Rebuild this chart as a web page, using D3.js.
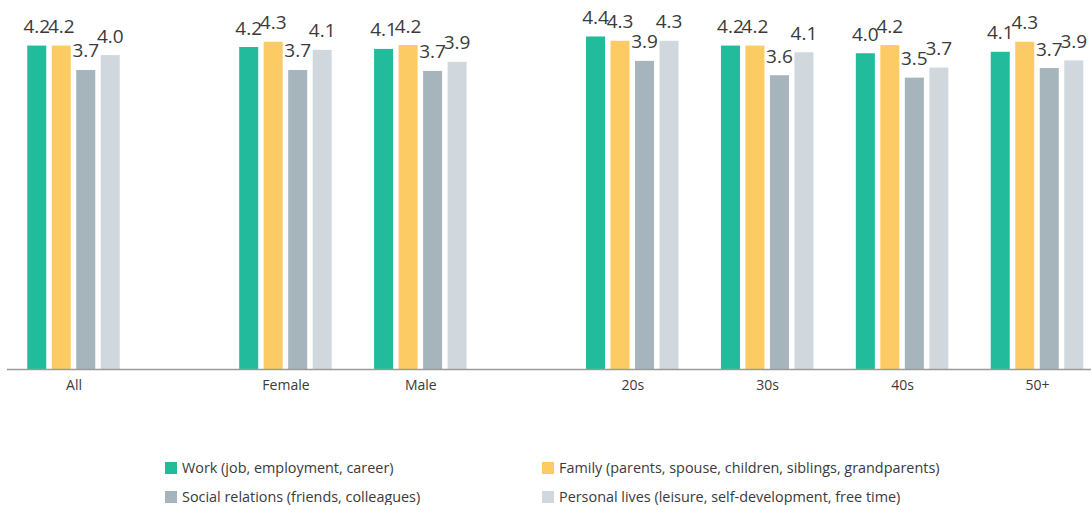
<!DOCTYPE html>
<html>
<head>
<meta charset="utf-8">
<script src="https://cdn.jsdelivr.net/npm/d3@7"></script>
<style>
  html, body { margin: 0; padding: 0; background: #fff; }
  svg { display: block; font-family: "Open Sans", "Noto Sans", sans-serif; }
</style>
</head>
<body>
<svg id="chart" width="1091" height="505"></svg>
<script>
// ---- data ----
const categories = ["All", "Female", "Male", "20s", "30s", "40s", "50+"];
const sections = [0, 1, 1, 2, 2, 2, 2];
const seriesNames = [
  "Work (job, employment, career)",
  "Family (parents, spouse, children, siblings, grandparents)",
  "Social relations (friends, colleagues)",
  "Personal lives (leisure, self-development, free time)"
];
const work     = [4.20, 4.17, 4.13, 4.39, 4.20, 4.04, 4.07];
const family   = [4.20, 4.28, 4.21, 4.30, 4.20, 4.21, 4.28];
const social   = [3.69, 3.69, 3.67, 3.88, 3.58, 3.53, 3.73];
const personal = [4.00, 4.11, 3.86, 4.30, 4.06, 3.74, 3.89];
const colors = ["#22bb9b", "#fdcb64", "#a6b4bc", "#d0d8de"];

const seriesValues = [work, family, social, personal];

// ---- layout ----
const svg = d3.select("#chart");
const gapRatio = 0.571;
const slot = categories.map((c, i) => i + sections[i] * gapRatio);
const baseY = 369.5;

const xSlot = d3.scaleLinear()
  .domain([0, d3.max(slot)])
  .range([73.5, 1037]);

const x1 = d3.scaleBand()
  .domain(d3.range(seriesNames.length))
  .range([-46.25, 46.25])
  .paddingInner(0.224)
  .paddingOuter(0);

const y = d3.scaleLinear()
  .domain([-2.57, 4.4])
  .range([baseY, 36]);

// bars
const groups = svg.append("g").selectAll("g")
  .data(categories)
  .join("g")
  .attr("transform", (d, i) => `translate(${xSlot(slot[i])},0)`);

groups.each(function(cat, ci) {
  const g = d3.select(this);
  const vals = seriesValues.map((s, si) => ({ si, v: s[ci] }));
  g.selectAll("rect")
    .data(vals)
    .join("rect")
    .attr("x", d => x1(d.si))
    .attr("width", x1.bandwidth())
    .attr("y", d => y(d.v))
    .attr("height", d => baseY - y(d.v))
    .attr("fill", d => colors[d.si]);
  g.selectAll("text.val")
    .data(vals)
    .join("text")
    .attr("class", "val")
    .attr("x", d => x1(d.si) + x1.bandwidth() / 2)
    .attr("y", d => y(d.v) - 12.5)
    .attr("text-anchor", "middle")
    .attr("font-size", 19)
    .attr("fill", "#3a3a3a")
    .text(d => d.v.toFixed(1));
});

// axis
const axis = d3.axisBottom(xSlot)
  .tickValues(slot)
  .tickFormat((d, i) => categories[i])
  .tickSize(0)
  .tickPadding(11);

const axG = svg.append("g")
  .attr("transform", `translate(0,${baseY})`)
  .call(axis);
axG.select(".domain").remove();
axG.selectAll("text")
  .attr("font-size", 14)
  .attr("font-family", "'Open Sans', sans-serif")
  .attr("fill", "#3a3a3a");

svg.append("line")
  .attr("x1", 7).attr("x2", 1091)
  .attr("y1", baseY).attr("y2", baseY)
  .attr("stroke", "#9a9a9a")
  .attr("stroke-width", 1.5);

// legend
const legCols = [165, 542];
const legRows = [462, 491];
const legend = svg.append("g").selectAll("g")
  .data(seriesNames)
  .join("g")
  .attr("transform", (d, i) => `translate(${legCols[i % 2]},${legRows[Math.floor(i / 2)]})`);
legend.append("rect")
  .attr("width", 12).attr("height", 12)
  .attr("fill", (d, i) => colors[i]);
legend.append("text")
  .attr("x", 17).attr("y", 11)
  .attr("font-size", 14.4)
  .attr("fill", "#3a3a3a")
  .text(d => d);
</script>
</body>
</html>
